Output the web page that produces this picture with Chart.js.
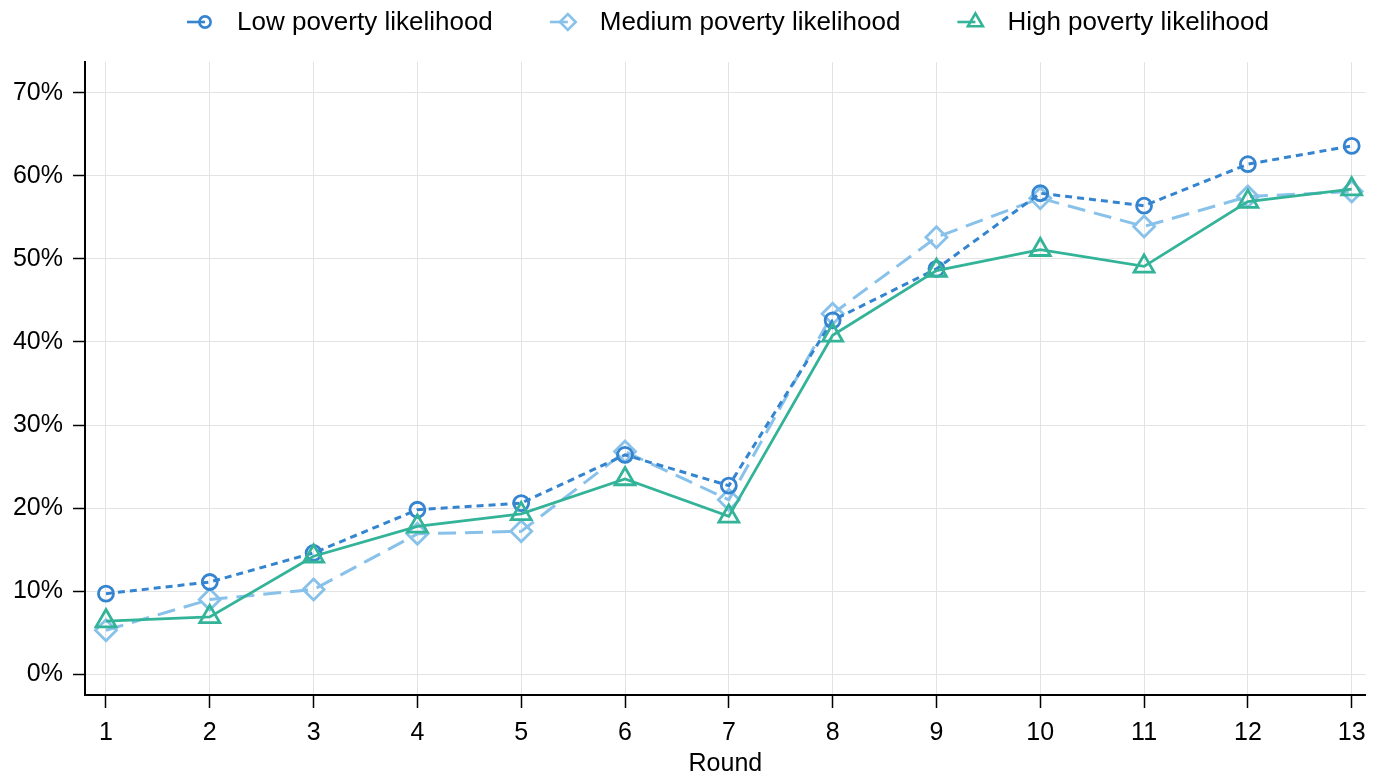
<!DOCTYPE html>
<html>
<head>
<meta charset="utf-8">
<script src="https://cdn.jsdelivr.net/npm/chart.js@4.4.1/dist/chart.umd.min.js"></script>
<style>
html,body{margin:0;padding:0;background:#fff;overflow:hidden;}
#wrap{width:1380px;height:776px;position:relative;}
canvas{display:block;}
</style>
</head>
<body>
<div id="wrap"><canvas id="c"></canvas></div>
<script>
// ---- data ----
const rounds = [1,2,3,4,5,6,7,8,9,10,11,12,13];
const lowPoverty    = [9.7, 11.1, 14.6, 19.8, 20.6, 26.4, 22.7, 42.6, 48.8, 57.9, 56.4, 61.4, 63.6];
const mediumPoverty = [5.3, 9.0, 10.2, 16.9, 17.2, 26.8, 21.0, 43.4, 52.6, 57.3, 53.9, 57.5, 58.1];
const highPoverty   = [6.4, 6.9, 14.2, 17.8, 19.3, 23.5, 19.0, 40.8, 48.6, 51.1, 49.1, 56.9, 58.4];
const yTicks = [0,10,20,30,40,50,60,70];
const seriesNames = ['Low poverty likelihood','Medium poverty likelihood','High poverty likelihood'];

const FONT = '"Liberation Sans", Arial, sans-serif';
const cLow = '#3484d0', cMed = '#88c1ea', cHigh = '#33b398';

function pts(vals){ return rounds.map((r,i)=>({x:r, y:vals[i]})); }

const datasets = [
  {label:seriesNames[0], data:pts(lowPoverty), borderColor:cLow, borderWidth:3, borderDash:[7,5],
   pointStyle:'circle', pointRadius:7.5, pointBorderWidth:2.8, pointBorderColor:cLow,
   pointBackgroundColor:'rgba(0,0,0,0)', order:1},
  {label:seriesNames[1], data:pts(mediumPoverty), borderColor:cMed, borderWidth:3, borderDash:[18,9],
   pointStyle:'rectRot', pointRadius:10.5, pointBorderWidth:2.8, pointBorderColor:cMed,
   pointBackgroundColor:'rgba(0,0,0,0)', order:2},
  {label:seriesNames[2], data:pts(highPoverty), borderColor:cHigh, borderWidth:2.8, borderDash:[],
   pointStyle:'triangle', pointRadius:11.5, pointBorderWidth:2.8, pointBorderColor:cHigh,
   pointBackgroundColor:'rgba(0,0,0,0)', order:0}
];

const legendPlugin = {
  id:'customLegend',
  afterDraw(chart){
    const ctx = chart.ctx, ca = chart.chartArea;
    ctx.save();
    ctx.font = '26px ' + FONT;
    const lineLen = 18, toText = 32, gap = 57;
    const items = datasets.map(d=>({d, w: ctx.measureText(d.label).width}));
    let total = 0;
    items.forEach((it,i)=>{ total += lineLen + toText + it.w + (i<items.length-1?gap:0); });
    let x = 728 - total/2;
    const y = 22;
    items.forEach(it=>{
      const d = it.d;
      const cx = x + lineLen;
      ctx.strokeStyle = d.borderColor;
      ctx.fillStyle = 'rgba(0,0,0,0)';
      ctx.lineWidth = 2.6;
      ctx.setLineDash([]);
      ctx.beginPath(); ctx.moveTo(x, y); ctx.lineTo(cx, y); ctx.stroke();
      Chart.helpers.drawPoint(ctx, {pointStyle:d.pointStyle, radius:d.pointRadius*0.75, borderWidth:2.6, rotation:0}, cx, y);
      ctx.fillStyle = '#000';
      ctx.textBaseline = 'middle';
      ctx.textAlign = 'left';
      ctx.fillText(d.label, cx + toText, y + 1);
      x = cx + toText + it.w + gap;
    });
    ctx.restore();
  }
};

new Chart(document.getElementById('c'), {
  type:'line',
  data:{datasets},
  options:{
    responsive:true, maintainAspectRatio:false, animation:false,
    layout:{padding:{top:62,right:8,left:0,bottom:0}},
    plugins:{legend:{display:false}, tooltip:{enabled:false}},
    elements:{line:{tension:0, fill:false}},
    scales:{
      x:{type:'linear', min:0.798, max:13.135,
        afterBuildTicks(s){ s.ticks = rounds.map(v=>({value:v})); },
        afterFit(s){ s.height = 81; },
        grid:{color:'#e3e3e3', lineWidth:1, tickColor:'#000', tickLength:13, tickWidth:1.5},
        border:{display:true, color:'#000', width:2},
        ticks:{color:'#000', font:{family:FONT, size:25}, padding:10, maxRotation:0, autoSkip:false,
          callback:v=>String(v)},
        title:{display:true, text:'Round', color:'#000', font:{family:FONT, size:25, lineHeight:1}, padding:{top:0,bottom:-1}}
      },
      y:{type:'linear', min:-2.5, max:73.7,
        afterBuildTicks(s){ s.ticks = yTicks.map(v=>({value:v})); },
        afterFit(s){ s.width = 85; },
        grid:{color:'#e3e3e3', lineWidth:1, tickColor:'#000', tickLength:12, tickWidth:1.5},
        border:{display:true, color:'#000', width:2},
        ticks:{color:'#000', font:{family:FONT, size:25}, padding:10, callback:v=>v+'%'}
      }
    }
  },
  plugins:[legendPlugin]
});
</script>
</body>
</html>
